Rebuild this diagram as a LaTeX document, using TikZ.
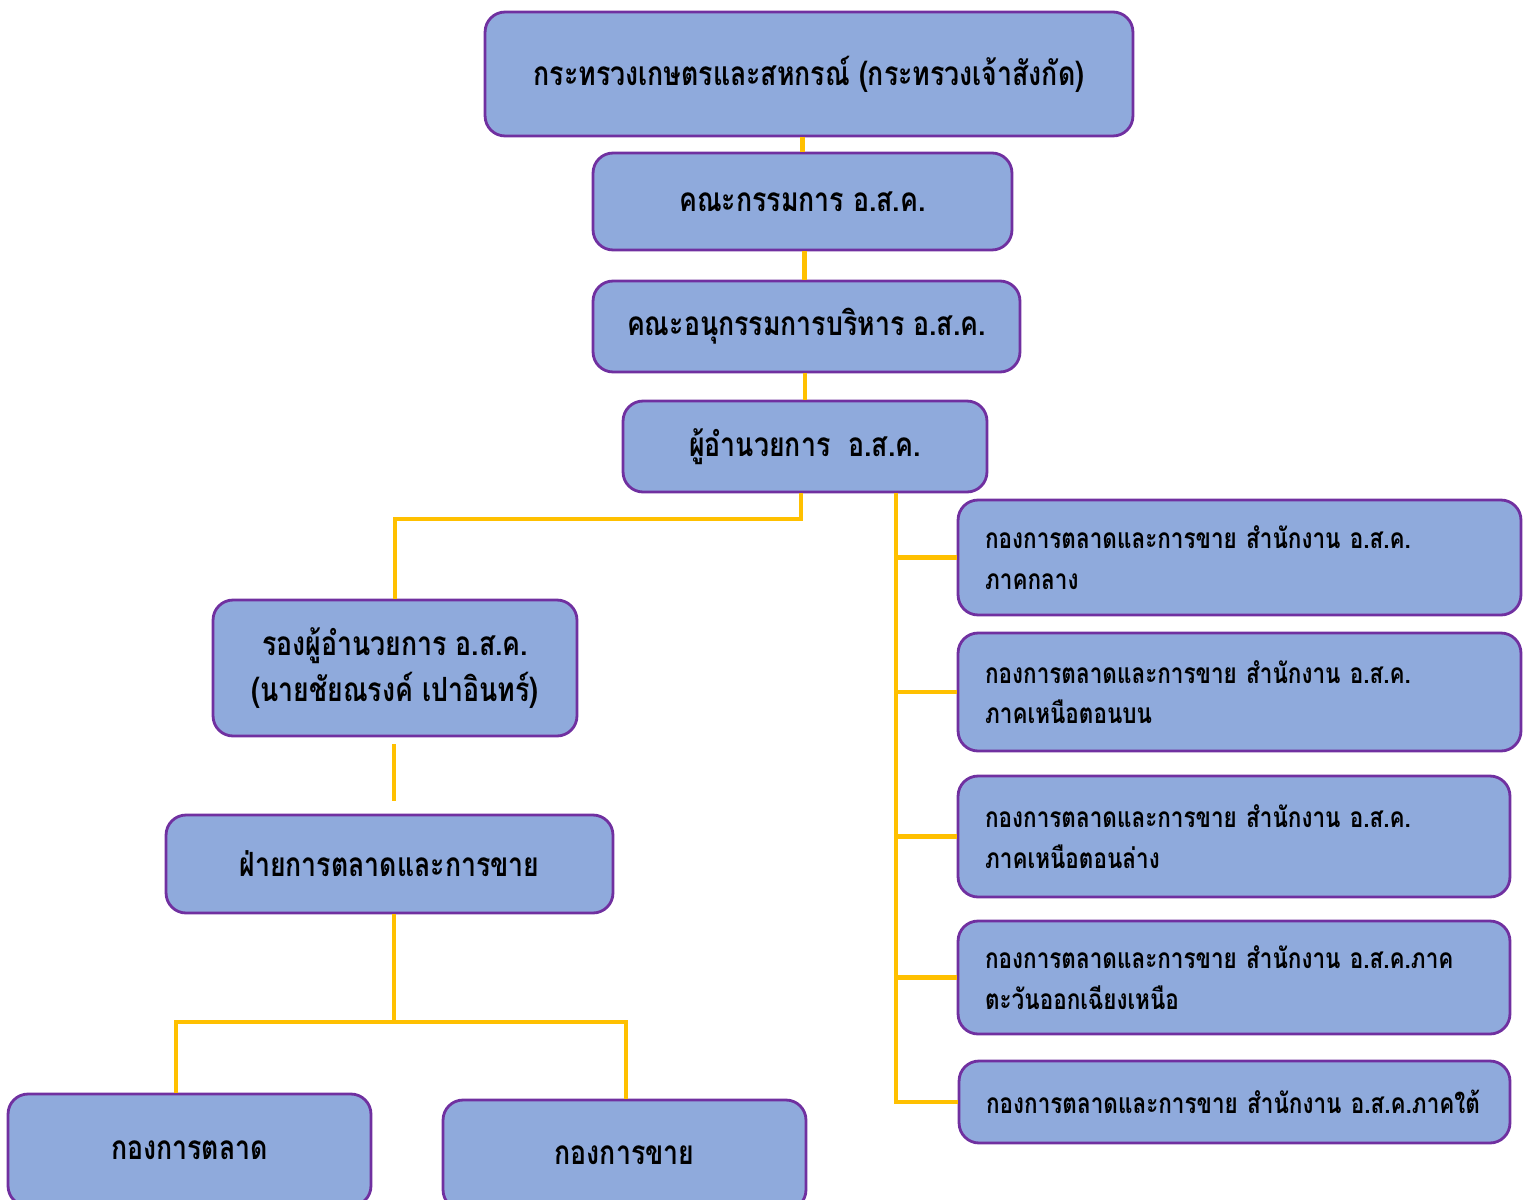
\documentclass[tikz,border=0pt]{standalone}
\usepackage{fontspec}
\newfontfamily\thaifont[Script=Thai, FakeStretch=0.8]{Loma}
\usetikzlibrary{calc}
\definecolor{boxfill}{HTML}{8FAADC}
\definecolor{boxline}{HTML}{7030A0}
\definecolor{linkcol}{HTML}{FFC000}

\begin{document}
\begin{tikzpicture}[x=0.02cm, y=-0.02cm,
  box/.style={draw=boxline, fill=boxfill, line width=1.6pt, rounded corners=0.4cm, align=center, inner sep=0pt,
    font={\thaifont\bfseries\fontsize{19}{26}\selectfont}},
  office/.style={box, align=left, inner xsep=0.54cm, font={\thaifont\bfseries\fontsize{16}{23}\selectfont}},
  link/.style={draw=linkcol, line width=2.3pt}]
\useasboundingbox (0,0) rectangle (1523,1199);
\node[box, minimum width=12.96cm, minimum height=2.48cm] (ministry) at (809,74) {กระทรวงเกษตรและสหกรณ์ (กระทรวงเจ้าสังกัด)};
\node[box, minimum width=8.38cm, minimum height=1.94cm] (board) at (802.5,201.5) {คณะกรรมการ อ.ส.ค.};
\node[box, minimum width=8.54cm, minimum height=1.82cm] (subboard) at (806.5,326.5) {คณะอนุกรรมการบริหาร อ.ส.ค.};
\node[box, minimum width=7.28cm, minimum height=1.82cm] (director) at (805,446.5) {ผู้อำนวยการ\ \ อ.ส.ค.};
\node[box, minimum width=7.28cm, minimum height=2.72cm] (deputy) at (395,668) {รองผู้อำนวยการ อ.ส.ค.\\(นายชัยณรงค์ เปาอินทร์)};
\node[box, minimum width=8.94cm, minimum height=1.96cm] (dept) at (389.5,864) {ฝ่ายการตลาดและการขาย};
\node[box, minimum width=7.26cm, minimum height=2.24cm] (mkt) at (189.5,1150) {กองการตลาด};
\node[box, minimum width=7.26cm, minimum height=2.2cm] (sales) at (624.5,1155) {กองการขาย};
\node[office, minimum width=11.26cm, minimum height=2.3cm, text width=10.18cm] (central) at (1239.5,557.5) {\mbox{กองการตลาดและการขาย สำนักงาน อ.ส.ค.}\\ภาคกลาง};
\node[office, minimum width=11.26cm, minimum height=2.36cm, text width=10.18cm] (upnorth) at (1239.5,692) {\mbox{กองการตลาดและการขาย สำนักงาน อ.ส.ค.}\\ภาคเหนือตอนบน};
\node[office, minimum width=11.04cm, minimum height=2.42cm, text width=9.96cm] (lownorth) at (1234,836.5) {\mbox{กองการตลาดและการขาย สำนักงาน อ.ส.ค.}\\ภาคเหนือตอนล่าง};
\node[office, minimum width=11.04cm, minimum height=2.26cm, text width=9.96cm] (northeast) at (1234,977.5) {\mbox{กองการตลาดและการขาย สำนักงาน อ.ส.ค.ภาค}\\ตะวันออกเฉียงเหนือ};
\node[office, minimum width=11.02cm, minimum height=1.64cm, text width=9.94cm] (south) at (1234.5,1102) {\mbox{กองการตลาดและการขาย สำนักงาน อ.ส.ค.ภาคใต้}};
\draw[link] (board.north) -- (board.north |- ministry.south);
\draw[link] ([xshift=0.04cm]board.south) -- ([xshift=0.04cm]board.south |- subboard.north);
\draw[link] (director.north) -- (director.north |- subboard.south);
\draw[link] ([xshift=-0.08cm]director.south) -- ++(0,26) -| (deputy.north);
\draw[link, shorten <=4, shorten >=7] ([xshift=-0.02cm]deputy.south) -- ([xshift=-0.02cm]deputy.south |- dept.north);
\draw[link] ([xshift=0.09cm]dept.south) -- ++(0,108) coordinate (fork);
\draw[link] ([xshift=-0.27cm]mkt.north) |- (fork) -| ([xshift=0.03cm]sales.north);
\coordinate (bus) at ([xshift=1.82cm]director.south);
\draw[link] (bus) |- (south.west);
\foreach \r in {central,upnorth,lownorth,northeast}
  \draw[link] (bus |- \r.west) -- (\r.west);
\end{tikzpicture}
\end{document}
